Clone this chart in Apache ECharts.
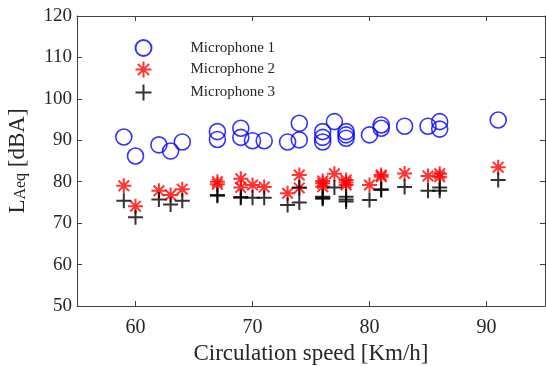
<!DOCTYPE html>
<html>
<head>
<meta charset="utf-8">
<script src="https://cdn.jsdelivr.net/npm/echarts@6/dist/echarts.min.js"></script>
<style>html,body{margin:0;padding:0;background:#fff;}#c{width:546px;height:366px;}</style>
</head>
<body>
<div id="c"></div>
<script>
var speed = [59,60,62,63,64,67,67,69,69,70,71,73,74,74,76,76,76,77,78,78,78,80,81,81,83,85,86,86,91];
var mic1 = [90.8,86.2,88.9,87.4,89.6,92.1,90.2,92.9,90.7,89.9,89.9,89.6,94.1,90.1,92.1,90.7,89.6,94.5,92.1,91.3,90.5,91.3,93.7,92.9,93.4,93.4,94.5,92.7,94.9];
var mic2 = [79.0,74.1,77.8,76.8,78.2,80.0,79.4,80.7,78.6,79.2,78.7,77.2,81.6,78.5,79.6,78.8,80.2,81.9,80.4,79.2,79.8,79.2,81.2,81.6,82.0,81.4,81.9,81.2,83.5];
var mic3 = [75.4,71.4,75.7,74.5,75.4,76.6,76.8,76.1,76.3,76.1,76.1,74.4,78.6,75.0,76.4,75.9,76.1,78.6,76.4,75.7,75.2,75.6,78.2,78.0,78.7,77.8,78.6,77.8,80.4];
var seriesNames = ['Microphone 1','Microphone 2','Microphone 3'];
var xTicks = [60,70,80,90];
var xName = 'Circulation speed [Km/h]';

function pairs(ys){ return speed.map(function(x,i){ return [x, ys[i]]; }); }

var FONT = '"Liberation Serif", "Times New Roman", serif';
var AX = '#404040';
var TXT = '#262626';
var asterisk = 'path://M0,-1L0,1M-1,0L1,0M-0.707,-0.707L0.707,0.707M-0.707,0.707L0.707,-0.707';
var plus = 'path://M0,-1L0,1M-1,0L1,0';

var chart = echarts.init(document.getElementById('c'), null, {renderer:'canvas'});
function axisLine(){ return {show:true, onZero:false, lineStyle:{color:AX, width:1}}; }
function ticks(custom){ var t = {show:true, inside:true, length:5, lineStyle:{color:AX}}; if (custom) t.customValues = custom; return t; }
chart.setOption({
  animation:false,
  backgroundColor:'#fff',
  grid:{left:77, right:1, top:16, bottom:60, containLabel:false, outerBoundsMode:'none'},
  legend:{
    left:128, top:34, orient:'vertical', itemWidth:84, itemHeight:16, itemGap:2,
    textStyle:{fontFamily:FONT, fontSize:15, color:TXT},
    data:seriesNames
  },
  xAxis:[
    {type:'value', min:55, max:95, interval:5, position:'bottom',
      name:xName, nameLocation:'middle', nameGap:31,
      nameTextStyle:{fontFamily:FONT, fontSize:23, color:TXT},
      axisLine:axisLine(), axisTick:ticks(xTicks), splitLine:{show:false},
      axisLabel:{fontFamily:FONT, fontSize:20, color:TXT, margin:12, customValues:xTicks}
    },
    {type:'value', min:55, max:95, interval:5, position:'top', axisLabel:{show:false},
      axisLine:axisLine(), axisTick:ticks(xTicks), splitLine:{show:false}}
  ],
  yAxis:[
    {type:'value', min:50, max:120, interval:10, position:'left',
      name:'{m|L}{s|Aeq}{m| [dBA]}', nameLocation:'middle', nameGap:48,
      nameTextStyle:{fontFamily:FONT, fontSize:23, color:TXT,
        rich:{m:{fontFamily:FONT, fontSize:23, color:TXT},
              s:{fontFamily:FONT, fontSize:16, color:TXT, verticalAlign:'bottom'}}},
      axisLine:axisLine(), axisTick:ticks(), splitLine:{show:false},
      axisLabel:{fontFamily:FONT, fontSize:19, color:TXT, margin:5}
    },
    {type:'value', min:50, max:120, interval:10, position:'right', axisLabel:{show:false},
      axisLine:axisLine(), axisTick:ticks(), splitLine:{show:false}}
  ],
  series:[
    {name:seriesNames[0], type:'scatter', data:pairs(mic1), symbol:'circle', symbolSize:16,
      itemStyle:{color:'rgba(0,0,0,0)', borderColor:'#0000ff', borderWidth:1.6}},
    {name:seriesNames[1], type:'scatter', data:pairs(mic2), symbol:asterisk, symbolSize:15,
      itemStyle:{color:'none', borderColor:'#ff0000', borderWidth:2}},
    {name:seriesNames[2], type:'scatter', data:pairs(mic3), symbol:plus, symbolSize:15,
      itemStyle:{color:'none', borderColor:'#000000', borderWidth:2}}
  ]
});
</script>
</body>
</html>
